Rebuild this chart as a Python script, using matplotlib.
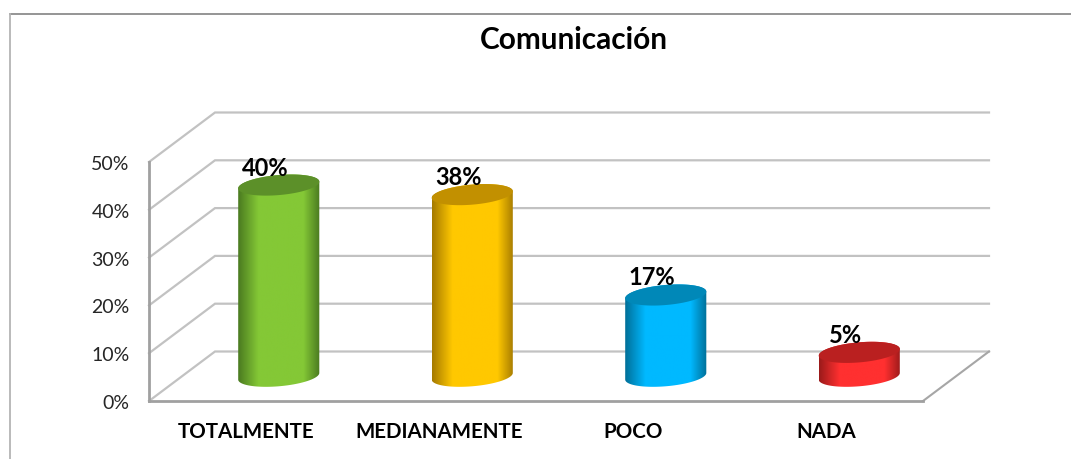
import numpy as np
import matplotlib.pyplot as plt
from matplotlib.colors import LinearSegmentedColormap
from matplotlib.lines import Line2D
from matplotlib.patches import Polygon
from matplotlib.transforms import ScaledTranslation

plt.rcParams['font.family'] = ['Lato', 'DejaVu Sans']

# ---- Data ----
categories = ["TOTALMENTE", "MEDIANAMENTE", "POCO", "NADA"]
values = [40, 38, 17, 5]
value_labels = ["40%", "38%", "17%", "5%"]
y_ticks = [0, 10, 20, 30, 40, 50]
y_tick_labels = ["0%", "10%", "20%", "30%", "40%", "50%"]

# edge, body, top-face colours per bar
edge_colors = ["#4a7a20", "#a57a00", "#006f98", "#9a1a1a"]
body_colors = ["#84c836", "#ffc800", "#00b9ff", "#ff3030"]
top_colors = ["#5c9029", "#c29000", "#0088b8", "#ba2020"]

W, H = 1071, 459
fig = plt.figure(figsize=(W / 100, H / 100), dpi=100)

# axes = front plane of the fake 3D box
left, right, top, bottom = 149, 923, 162, 401
ax = fig.add_axes([left / W, 1 - bottom / H, (right - left) / W, (bottom - top) / H])
ax.set_xlim(-0.5, 3.5)
ax.set_ylim(0, 50)
ax.patch.set_alpha(0)

# data units per pixel
sx = 4 / (right - left)
sy = 50 / (bottom - top)
depth_x = 66 * sx
depth_y = 49.5 * sy
x0, x1 = -0.5, 3.5

# ---- Walls and floor ----
grid = "#c2c2c2"
for t in y_ticks:
    ax.plot([x0, x0 + depth_x, x1 + depth_x], [t, t + depth_y, t + depth_y],
            color=grid, lw=1.6, clip_on=False, zorder=1, solid_joinstyle='miter')
ax.plot([x1, x1 + depth_x], [0, depth_y], color="#a6a6a6", lw=1.5, clip_on=False, zorder=1)
ax.plot([x0, x1], [0, 0], color="#a0a0a0", lw=2, clip_on=False, zorder=2)
ax.plot([x0, x0], [0, 50], color="#a0a0a0", lw=2, clip_on=False, zorder=2)


def ellipse(cx, cy, t):
    # tilted ellipse, slightly higher on the right
    a, b, tilt = 40.7, 10, np.radians(5)
    px = a * np.cos(t) * np.cos(tilt) - b * np.sin(t) * np.sin(tilt)
    py = a * np.cos(t) * np.sin(tilt) + b * np.sin(t) * np.cos(tilt)
    return np.column_stack([cx + px * sx, cy + py * sy])


# ---- Cylinders ----
half_w = 40.7 * sx
for i, v in enumerate(values):
    cx = i + depth_x / 2
    base = depth_y / 2
    upper = base + v

    outline = np.vstack([ellipse(cx, upper, np.linspace(0, np.pi, 60)),
                         ellipse(cx, base, np.linspace(np.pi, 2 * np.pi, 60))])
    clip = Polygon(outline, closed=True, transform=ax.transData, fc='none', ec='none')
    ax.add_patch(clip)

    cmap = LinearSegmentedColormap.from_list(
        "bar", [(0, edge_colors[i]), (0.25, body_colors[i]), (0.55, body_colors[i]),
                (0.8, body_colors[i]), (1, edge_colors[i])])
    grad = np.linspace(0, 1, 256).reshape(1, -1)
    im = ax.imshow(grad, cmap=cmap, aspect='auto', zorder=3,
                   extent=[cx - half_w, cx + half_w, base - 5, upper + 5])
    im.set_clip_path(clip)

    ax.add_patch(Polygon(ellipse(cx, upper, np.linspace(0, 2 * np.pi, 120)),
                         closed=True, fc=top_colors[i], ec='none', zorder=4))

    ax.annotate(value_labels[i], (cx, upper), xytext=(-14, 17), textcoords='offset pixels',
                ha='center', va='center', fontsize=17, fontweight='bold',
                color='black', zorder=5, annotation_clip=False)

ax.set_xlim(-0.5, 3.5)
ax.set_ylim(0, 50)

# ---- Axes text ----
for s in ax.spines.values():
    s.set_visible(False)
ax.set_yticks(y_ticks, y_tick_labels, fontsize=14, color="#262626")
ax.set_xticks(range(len(categories)), categories, fontsize=14.8, fontweight='bold', color='black')
ax.tick_params(axis='y', length=0, pad=14)
ax.tick_params(axis='x', length=0, pad=15)
# tick labels sit a little under their gridline
nudge = ScaledTranslation(0, -1 / 100, fig.dpi_scale_trans)
for lab in ax.get_yticklabels():
    lab.set_transform(lab.get_transform() + nudge)

fig.text(574 / W, 1 - 40 / H, "Comunicación", ha='center', va='center',
         fontsize=21.4, fontweight='bold', color='black')

# ---- Picture frame (top and left only) ----
fig.add_artist(Line2D([10 / W, 1], [1 - 13.5 / H, 1 - 13.5 / H], color="#8c8c8c", lw=1.3))
fig.add_artist(Line2D([10 / W, 10 / W], [0, 1 - 13.5 / H], color="#b4b4b4", lw=1.3))

plt.savefig("out.png", dpi=100)
